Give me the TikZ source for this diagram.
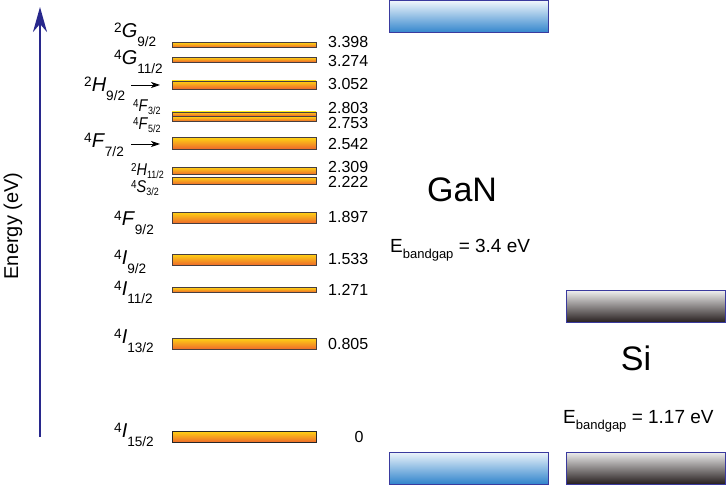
\documentclass[tikz,border=0pt]{standalone}
\usepackage{fontspec}
\setmainfont{Liberation Sans}
\usepackage{graphicx}
\usetikzlibrary{arrows.meta,positioning}

\definecolor{lvltop}{RGB}{255,210,20}
\definecolor{lvlbot}{RGB}{236,100,44}
\definecolor{lvlline}{RGB}{72,62,62}
\definecolor{bandline}{RGB}{58,58,158}
\definecolor{gantop}{RGB}{238,245,251}
\definecolor{ganbot}{RGB}{48,132,204}
\definecolor{sitop}{RGB}{238,238,238}
\definecolor{sibot}{RGB}{38,30,30}
\definecolor{axisblue}{RGB}{40,40,140}

\newcommand{\term}[3]{\raisebox{0.25em}{\scalebox{0.68}{#1}}\textit{#2}\raisebox{-0.45em}{\scalebox{0.68}{#3}}}
\newcommand{\sterm}[3]{\scalebox{0.85}[1]{\raisebox{0.25em}{\scalebox{0.68}{#1}}\textit{#2}\raisebox{-0.15em}{\scalebox{0.62}{#3}}}}
\newcommand{\gap}[1]{E\raisebox{-6pt}{\fontsize{13}{15}\selectfont bandgap} = #1}

\begin{document}
\begin{tikzpicture}[x=1pt, y=-1pt]
        \tikzset{
           level/.style={
                        rectangle,
                        draw=lvlline,
                        line width=0.8pt,
                        top color=lvltop,
                        bottom color=lvlbot,
                        minimum width=144pt,
                        inner sep=0pt
                       },
           band/.style={
                        rectangle,
                        draw=bandline,
                        line width=1pt,
                        minimum width=159pt,
                        minimum height=32pt,
                        inner sep=0pt
                       },
           value/.style={font=\fontsize{16}{18}\selectfont, anchor=west, inner sep=0pt},
           bigterm/.style={font=\fontsize{20}{24}\selectfont, anchor=base west, inner sep=0pt},
           smallterm/.style={font=\fontsize{17}{20}\selectfont, anchor=base west, inner sep=0pt},
           pointer/.style={-{Stealth[length=9pt,width=6pt,inset=2.5pt]}, line width=0.8pt},
                 };
        \useasboundingbox (0,0) rectangle (728,486);
        %----------------
        \coordinate (axbot) at (40,437);
        \coordinate (axtop) at (40,7);
        \draw[axisblue, line width=2pt, -{Stealth[length=25pt,width=14pt,inset=8pt]}] (axbot) -- (axtop);
        \node[rotate=90, font=\fontsize{20}{24}\selectfont] (ylabel) at (13,226) {Energy (eV)};
        %----------------
        \node[level, minimum height=5pt]    (g92)  at (244,45)    {};
        \node[level, minimum height=4.7pt]  (g112) at (244,59.7)  {};
        \node[level, minimum height=8pt]    (h92)  at (244,85)    {};
        \node[level, minimum height=4pt]    (f32)  at (244,114)   {};
        \node[level, minimum height=4.7pt]  (f52)  at (244,119)   {};
        \node[level, minimum height=11.7pt] (f72)  at (244,143.5) {};
        \node[level, minimum height=7.7pt]  (h112) at (244,171)   {};
        \node[level, minimum height=7.7pt]  (s32)  at (244,181)   {};
        \node[level, minimum height=11.7pt] (f92)  at (244,218)   {};
        \node[level, minimum height=11.7pt] (i92)  at (244,260)   {};
        \node[level, minimum height=5pt]    (i112) at (244,290)   {};
        \node[level, minimum height=11.7pt] (i132) at (244,344)   {};
        \node[level, minimum height=11.7pt, draw=black!85] (i152) at (244,437) {};
        %----------------
        \node[value] (g92val)  at (328,41.5)  {3.398};
        \node[value] (g112val) at (328,61)    {3.274};
        \node[value] (h92val)  at (328,84)    {3.052};
        \node[value] (f32val)  at (328,108)   {2.803};
        \node[value] (f52val)  at (328,122.5) {2.753};
        \node[value] (f72val)  at (328,143.5) {2.542};
        \node[value] (h112val) at (328,167)   {2.309};
        \node[value] (s32val)  at (328,182)   {2.222};
        \node[value] (f92val)  at (328,217)   {1.897};
        \node[value] (i92val)  at (328,259)   {1.533};
        \node[value] (i112val) at (328,290)   {1.271};
        \node[value] (i132val) at (328,344)   {0.805};
        \node[value, anchor=center] (i152val) at (359,437) {0};
        %----------------
        \node[bigterm]   (g92lbl)  at (114,38)  {\term{2}{G}{9/2}};
        \node[bigterm]   (g112lbl) at (114,65)  {\term{4}{G}{11/2}};
        \node[bigterm]   (h92lbl)  at (84,92)   {\term{2}{H}{9/2}};
        \node[smallterm] (f32lbl)  at (133,112) {\sterm{4}{F}{3/2}};
        \node[smallterm] (f52lbl)  at (133,130) {\sterm{4}{F}{5/2}};
        \node[bigterm]   (f72lbl)  at (84,148)  {\term{4}{F}{7/2}};
        \node[smallterm] (h112lbl) at (131,176) {\sterm{2}{H}{11/2}};
        \node[smallterm] (s32lbl)  at (131,193) {\sterm{4}{S}{3/2}};
        \node[bigterm]   (f92lbl)  at (114,226) {\term{4}{F}{9/2}};
        \node[bigterm]   (i92lbl)  at (114,265) {\term{4}{I}{9/2}};
        \node[bigterm]   (i112lbl) at (114,295) {\term{4}{I}{11/2}};
        \node[bigterm]   (i132lbl) at (114,343) {\term{4}{I}{13/2}};
        \node[bigterm]   (i152lbl) at (114,437) {\term{4}{I}{15/2}};
        %----------------
        \coordinate (h92from) at (131,85);
        \coordinate (h92to)   at (160,85);
        \coordinate (f72from) at (131,144);
        \coordinate (f72to)   at (160,144);
        \draw[pointer] (h92from) -- (h92to);
        \draw[pointer] (f72from) -- (f72to);
        %----------------
        \node[band, top color=gantop, bottom color=ganbot] (gancb) at (469,17)    {};
        \node[band, top color=gantop, bottom color=ganbot] (ganvb) at (469,468)   {};
        \node[band, top color=sitop, bottom color=sibot]   (sicb)  at (645.5,306.5) {};
        \node[band, top color=sitop, bottom color=sibot]   (sivb)  at (645.5,468) {};
        %----------------
        \node[font=\fontsize{34}{40}\selectfont, anchor=base, inner sep=0pt] (gan) at (462,202) {GaN};
        \node[font=\fontsize{19}{22}\selectfont, anchor=base west, inner sep=0pt] (gangap) at (390,253) {\gap{3.4 eV}};
        \node[font=\fontsize{34}{40}\selectfont, anchor=base, inner sep=0pt] (si) at (636,370) {Si};
        \node[font=\fontsize{19}{22}\selectfont, anchor=base west, inner sep=0pt] (sigap) at (563,423) {\gap{1.17 eV}};
    \end{tikzpicture}
\end{document}
